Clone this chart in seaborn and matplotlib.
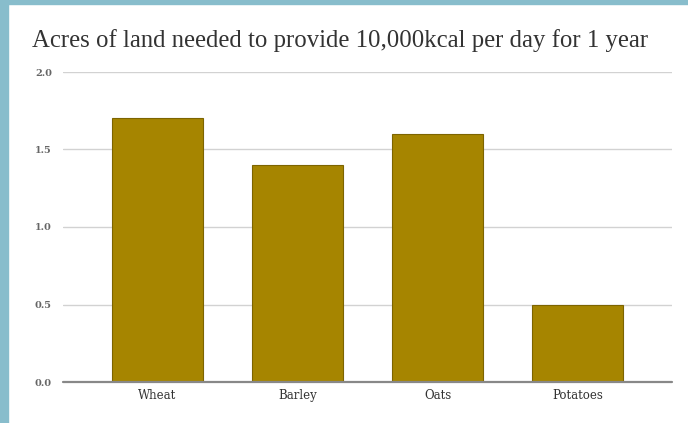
import matplotlib
matplotlib.use("Agg")
import matplotlib.pyplot as plt
import seaborn as sns
import pandas as pd
from matplotlib.patches import Rectangle

# data
crops = ["Wheat", "Barley", "Oats", "Potatoes"]
acres = [1.7, 1.4, 1.6, 0.5]
y_ticks = [0.0, 0.5, 1.0, 1.5, 2.0]

df = pd.DataFrame({"crop": crops, "acres": acres})

sns.set_theme(style="white")
plt.rcParams["font.family"] = ["DejaVu Serif", "DejaVu Sans"]

fig = plt.figure(figsize=(6.88, 4.23), dpi=100)
fig.patch.set_facecolor("white")

# light blue frame at the left and top edge of the screenshot
fig.patches.append(Rectangle((0, 0), 8 / 688, 1, transform=fig.transFigure,
                             color="#88bdcc", zorder=0))
fig.patches.append(Rectangle((0, 1 - 4 / 423), 1, 4 / 423, transform=fig.transFigure,
                             color="#88bdcc", zorder=0))

ax = fig.add_axes([63 / 688, 1 - 382 / 423, (672 - 63) / 688, (382 - 72) / 423])
sns.barplot(data=df, x="crop", y="acres", color="#a68500", saturation=1,
            width=0.65, edgecolor="#7d6400", linewidth=0.8, ax=ax, zorder=3)

ax.set_xlim(-0.675, 3.675)
ax.set_ylim(0, 2.0)
ax.set_yticks(y_ticks)
ax.set_yticklabels([f"{v:.1f}" for v in y_ticks], fontsize=7, fontweight="bold", color="#666666")
ax.set_xticks(range(len(crops)))
ax.set_xticklabels(crops, fontsize=8.5, color="#333333")
ax.tick_params(axis="y", length=0, pad=8)
ax.tick_params(axis="x", length=0, pad=5)
ax.set_xlabel("")
ax.set_ylabel("")

for v in y_ticks[1:]:
    ax.axhline(v, color="#d2d2d2", linewidth=1, zorder=1)
ax.axhline(0, color="#888888", linewidth=1.6, zorder=4, clip_on=False)
for s in ax.spines.values():
    s.set_visible(False)
ax.set_facecolor("none")

fig.text(32 / 688, 1 - 41 / 423, "Acres of land needed to provide 10,000kcal per day for 1 year",
         fontsize=17.8, color="#333333", va="center", ha="left",
         family=["Liberation Serif", "DejaVu Serif"])

fig.savefig("out.png", dpi=100)
